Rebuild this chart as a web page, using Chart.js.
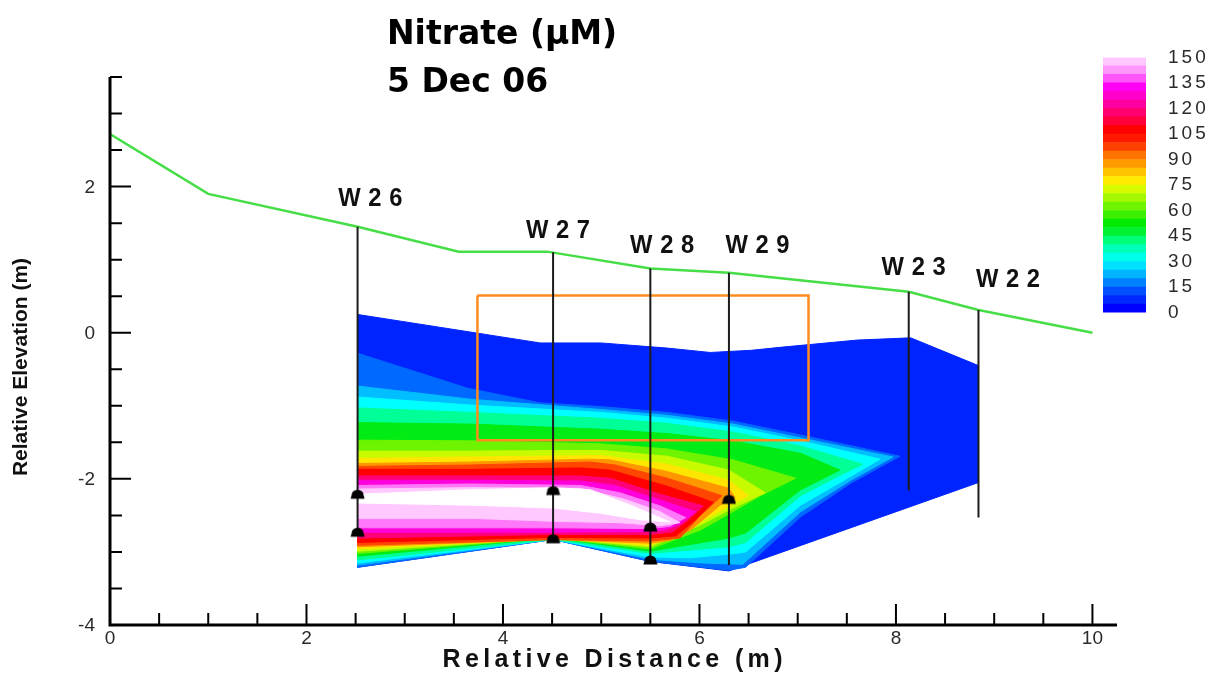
<!DOCTYPE html>
<html>
<head>
<meta charset="utf-8">
<script src="https://cdn.jsdelivr.net/npm/chart.js@4/dist/chart.umd.min.js"></script>
<style>
  html, body { margin: 0; padding: 0; background: #ffffff; }
  #wrap { position: relative; width: 1228px; height: 675px; overflow: hidden; }
  #main { position: absolute; left: 0; top: 0; }
  #cb { position: absolute; left: 1095px; top: 24px; }
</style>
</head>
<body>
<div id="wrap">
  <canvas id="main" width="1228" height="675"></canvas>
  <canvas id="cb" width="125" height="322"></canvas>
</div>
<script>
// ---------------- DATA ----------------
const titleLines = ['Nitrate (µM)', '5 Dec 06'];
const xAxisTitle = 'Relative Distance (m)';
const yAxisTitle = 'Relative Elevation (m)';

const xRange = [0, 10.25];
const yRange = [-4, 3.5];
const xMajorTicks = [0, 2, 4, 6, 8, 10];
const xMajorLabels = ['0', '2', '4', '6', '8', '10'];
const xMinorTicks = [0.5, 1, 1.5, 2.5, 3, 3.5, 4.5, 5, 5.5, 6.5, 7, 7.5, 8.5, 9, 9.5];
const yMajorTicks = [-4, -2, 0, 2];
const yMajorLabels = ['-4', '-2', '0', '2'];
const yMinorTicks = [-3.5, -3, -2.5, -1.5, -1, -0.5, 0.5, 1, 1.5, 2.5, 3, 3.5];

// ground surface (green line)
const groundX = [0, 1.0, 2.52, 3.55, 4.45, 5.5, 6.3, 8.13, 8.84, 10];
const groundY = [2.72, 1.90, 1.45, 1.11, 1.11, 0.88, 0.82, 0.56, 0.31, 0.0];

// wells
const wellNames = ['W26', 'W27', 'W28', 'W29', 'W23', 'W22'];
const wellX = [2.52, 4.51, 5.5, 6.3, 8.13, 8.84];
const wellTop = [1.45, 1.10, 0.88, 0.82, 0.56, 0.31];
const wellBottom = [-2.73, -2.82, -3.11, -3.18, -2.16, -2.53];
const wellLabelX = [2.65, 4.56, 5.62, 6.59, 8.18, 9.14];
const wellLabelY = [1.83, 1.39, 1.19, 1.19, 0.89, 0.72];

// sampling points (black domes)
const sampleX = [2.52, 2.52, 4.51, 4.51, 5.5, 5.5, 6.3];
const sampleY = [-2.21, -2.73, -2.16, -2.82, -2.66, -3.11, -2.28];

// orange box
const boxX = [3.74, 7.11];
const boxY = [0.51, -1.47];

// nitrate contour regions (region where nitrate >= level), x = distance, y = elevation
const contourLevels = [0, 10, 20, 30, 40, 50, 60, 70, 80, 90, 100, 110, 120, 130, 140, 150, 160];
const nitrate0 = [[2.52,0.25],[4.38,-0.14],[5.0,-0.14],[5.67,-0.21],[6.11,-0.27],[6.53,-0.24],[6.82,-0.20],[7.61,-0.10],[8.15,-0.07],[8.84,-0.45],[8.84,-2.05],[6.30,-3.26],[5.5,-3.13],[4.51,-2.83],[2.52,-3.21]];
const nitrate10 = [[2.52,-0.28],[3.64,-0.76],[4.38,-0.96],[4.99,-1.01],[5.67,-1.09],[6.34,-1.21],[7.03,-1.40],[8.04,-1.69],[7.54,-2.06],[7.03,-2.52],[6.47,-3.21],[6.30,-3.25],[5.50,-3.13],[4.51,-2.83],[2.52,-3.21]];
const nitrate20 = [[2.52,-0.73],[3.67,-0.91],[4.99,-1.05],[5.67,-1.13],[6.34,-1.25],[7.03,-1.44],[7.97,-1.70],[7.54,-2.02],[7.03,-2.45],[6.44,-3.17],[6.01,-3.15],[5.50,-3.10],[4.51,-2.83],[2.52,-3.18]];
const nitrate30 = [[2.52,-0.88],[3.67,-0.99],[4.99,-1.09],[5.67,-1.17],[6.34,-1.29],[7.03,-1.48],[7.84,-1.73],[7.43,-2.05],[7.03,-2.36],[6.47,-3.00],[6.30,-3.03],[5.91,-3.08],[5.50,-3.07],[4.51,-2.83],[2.52,-3.15]];
const nitrate40 = [[2.52,-1.03],[3.67,-1.09],[4.99,-1.17],[5.67,-1.24],[6.34,-1.36],[7.03,-1.55],[7.66,-1.80],[7.33,-2.02],[7.03,-2.23],[6.47,-2.87],[6.30,-2.93],[5.50,-3.02],[4.51,-2.83],[2.52,-3.11]];
const nitrate50 = [[2.52,-1.23],[3.67,-1.25],[4.99,-1.32],[5.67,-1.38],[6.34,-1.48],[7.03,-1.65],[7.43,-1.88],[7.03,-2.15],[6.47,-2.74],[6.30,-2.81],[5.50,-2.99],[4.51,-2.81],[2.52,-3.06]];
const nitrate60 = [[2.52,-1.47],[3.67,-1.48],[4.99,-1.52],[5.67,-1.59],[6.34,-1.74],[6.98,-1.99],[6.62,-2.23],[6.34,-2.45],[6.01,-2.70],[5.50,-2.96],[4.51,-2.81],[2.52,-3.02]];
const nitrate70 = [[2.52,-1.62],[3.67,-1.62],[4.99,-1.61],[5.67,-1.69],[6.30,-1.88],[6.67,-2.19],[6.34,-2.40],[6.01,-2.63],[5.50,-2.93],[4.51,-2.81],[2.52,-2.99]];
const nitrate80 = [[2.52,-1.72],[3.67,-1.70],[4.99,-1.68],[5.67,-1.80],[6.30,-2.02],[6.50,-2.23],[6.30,-2.37],[6.01,-2.59],[5.50,-2.91],[4.51,-2.81],[2.52,-2.96]];
const nitrate90 = [[2.52,-1.79],[3.67,-1.77],[4.89,-1.73],[5.09,-1.74],[5.67,-1.90],[6.30,-2.13],[6.36,-2.25],[6.21,-2.36],[5.91,-2.70],[5.70,-2.84],[5.50,-2.88],[4.51,-2.83],[2.52,-2.93]];
const nitrate100 = [[2.52,-1.83],[3.67,-1.81],[4.89,-1.77],[5.14,-1.81],[5.67,-1.99],[6.23,-2.23],[6.01,-2.50],[5.80,-2.81],[5.50,-2.85],[4.51,-2.83],[2.52,-2.91]];
const nitrate110 = [[2.52,-1.87],[3.67,-1.87],[4.79,-1.85],[5.09,-1.88],[5.67,-2.10],[6.14,-2.32],[5.96,-2.56],[5.76,-2.78],[5.50,-2.81],[4.51,-2.80],[2.52,-2.87]];
const nitrate120 = [[2.52,-1.96],[3.67,-1.96],[4.79,-1.96],[5.09,-1.99],[5.60,-2.21],[6.04,-2.37],[5.89,-2.56],[5.72,-2.73],[5.50,-2.76],[4.51,-2.76],[2.52,-2.81]];
const nitrate130 = [[2.52,-2.02],[3.67,-2.02],[4.79,-2.03],[5.14,-2.09],[5.60,-2.29],[5.96,-2.45],[5.80,-2.62],[5.65,-2.70],[5.50,-2.72],[4.51,-2.73],[2.52,-2.73]];
const nitrate140 = [[2.52,-2.09],[3.67,-2.07],[4.79,-2.09],[5.19,-2.19],[5.60,-2.37],[5.86,-2.53],[5.70,-2.65],[5.50,-2.68],[4.51,-2.67],[2.52,-2.67]];
const nitrate150 = [[2.52,-2.14],[3.67,-2.12],[4.79,-2.13],[5.24,-2.28],[5.60,-2.45],[5.80,-2.60],[5.60,-2.64],[5.19,-2.60],[4.51,-2.58],[3.67,-2.54],[2.52,-2.54]];
const nitrate160 = [[2.52,-2.21],[3.67,-2.15],[4.51,-2.12],[4.89,-2.15],[5.30,-2.36],[5.70,-2.59],[5.40,-2.56],[4.99,-2.47],[4.51,-2.40],[3.67,-2.36],[2.52,-2.33]];
const contourRegions = [nitrate0, nitrate10, nitrate20, nitrate30, nitrate40, nitrate50, nitrate60, nitrate70, nitrate80,
  nitrate90, nitrate100, nitrate110, nitrate120, nitrate130, nitrate140, nitrate150, nitrate160];

// colour bar bands (µM) and tick labels
const cbEdges = [0,5,10,15,20,25,30,35,40,45,50,55,60,65,70,75,80,85,90,95,100,105,110,115,120,125,130,135,140,145,150];
const cbTicks = [0, 15, 30, 45, 60, 75, 90, 105, 120, 135, 150];

// ---------------- STYLES ----------------
const contourColors = ['rgb(0,36,255)','rgb(0,105,255)','rgb(0,190,255)','rgb(0,255,255)','rgb(0,255,150)',
  'rgb(0,236,20)','rgb(110,244,0)','rgb(200,250,0)','rgb(255,230,0)','rgb(255,150,0)','rgb(255,70,0)',
  'rgb(255,0,0)','rgb(255,0,120)','rgb(255,0,220)','rgb(255,120,250)','rgb(255,200,255)','rgb(255,255,255)'];
const cbColors = ['rgb(0,0,255)','rgb(0,40,255)','rgb(0,80,255)','rgb(0,130,255)','rgb(0,180,255)','rgb(0,225,255)',
  'rgb(0,255,235)','rgb(0,255,185)','rgb(0,255,120)','rgb(0,242,50)','rgb(0,235,0)','rgb(60,238,0)',
  'rgb(110,243,0)','rgb(165,248,0)','rgb(215,250,0)','rgb(255,235,0)','rgb(255,195,0)','rgb(255,155,0)',
  'rgb(255,115,0)','rgb(255,65,0)','rgb(255,25,0)','rgb(255,0,0)','rgb(255,0,60)','rgb(255,0,110)',
  'rgb(255,0,160)','rgb(255,0,205)','rgb(255,0,245)','rgb(255,85,250)','rgb(255,150,252)','rgb(255,200,255)'];
const FONT = "'Liberation Sans', Arial, sans-serif";

// dome shaped marker
function makeDome() {
  const c = document.createElement('canvas');
  c.width = 15; c.height = 12;
  const g = c.getContext('2d');
  g.fillStyle = '#000';
  g.beginPath();
  g.moveTo(0.5, 10.5);
  g.lineTo(1.5, 7);
  g.ellipse(7.5, 7, 6, 5.5, 0, Math.PI, 2 * Math.PI);
  g.lineTo(14.5, 10.5);
  g.closePath();
  g.fill();
  return c;
}

// ---------------- MAIN CHART ----------------
const datasets = [];
contourRegions.forEach((poly, i) => {
  const pts = poly.map(p => ({ x: p[0], y: p[1] }));
  pts.push({ x: poly[0][0], y: poly[0][1] });
  datasets.push({
    type: 'line', data: pts, fill: 'shape', backgroundColor: contourColors[i],
    borderColor: contourColors[i], borderWidth: 1, pointRadius: 0, tension: 0, order: 100 - i
  });
});
datasets.push({
  type: 'line', order: 5, fill: false, pointRadius: 0, borderWidth: 2.5, borderColor: 'rgb(255,140,30)',
  data: [{x: boxX[0], y: boxY[0]}, {x: boxX[1], y: boxY[0]}, {x: boxX[1], y: boxY[1]}, {x: boxX[0], y: boxY[1]}, {x: boxX[0], y: boxY[0]}]
});
datasets.push({
  type: 'line', order: 4, fill: false, pointRadius: 0, borderWidth: 2.5, borderColor: 'rgb(70,222,70)', tension: 0,
  data: groundX.map((v, i) => ({ x: v, y: groundY[i] }))
});
wellX.forEach((wx, i) => {
  datasets.push({
    type: 'line', order: 3, fill: false, pointRadius: 0, borderWidth: 2, borderColor: '#1c1c1c',
    data: [{ x: wx, y: wellTop[i] }, { x: wx, y: wellBottom[i] }]
  });
});
datasets.push({
  type: 'line', order: 1, showLine: false, pointStyle: makeDome(), pointRadius: 6,
  data: sampleX.map((v, i) => ({ x: v, y: sampleY[i] }))
});

const decor = {
  id: 'decor',
  afterDatasetsDraw(chart) {
    const { ctx, scales: { x, y } } = chart;
    ctx.save();
    ctx.fillStyle = '#111';
    ctx.font = "bold 25px " + FONT;
    ctx.textAlign = 'center';
    ctx.textBaseline = 'middle';
    wellNames.forEach((n, i) => {
      const px = x.getPixelForValue(wellLabelX[i]);
      const py = y.getPixelForValue(wellLabelY[i]);
      ctx.save();
      ctx.translate(px, py);
      ctx.scale(0.95, 1.05);
      ctx.letterSpacing = '8px';
      ctx.fillText(n, 4, 0);
      ctx.restore();
    });
    ctx.restore();
  },
  afterDraw(chart) {
    const { ctx, scales: { x, y } } = chart;
    const X = v => x.getPixelForValue(v), Y = v => y.getPixelForValue(v);
    const x0 = X(xRange[0]), y0 = Y(yRange[0]);
    ctx.save();
    ctx.strokeStyle = '#000';
    ctx.lineWidth = 3;
    ctx.beginPath();
    ctx.moveTo(x0, Y(yRange[1]));
    ctx.lineTo(x0, y0);
    ctx.lineTo(X(xRange[1]), y0);
    ctx.stroke();
    ctx.lineWidth = 2;
    ctx.beginPath();
    xMajorTicks.forEach(v => { ctx.moveTo(X(v), y0); ctx.lineTo(X(v), y0 - 21); });
    xMinorTicks.forEach(v => { ctx.moveTo(X(v), y0); ctx.lineTo(X(v), y0 - 12); });
    yMajorTicks.forEach(v => { ctx.moveTo(x0, Y(v)); ctx.lineTo(x0 + 21, Y(v)); });
    yMinorTicks.forEach(v => { ctx.moveTo(x0, Y(v)); ctx.lineTo(x0 + 12, Y(v)); });
    ctx.stroke();

    // tick labels
    ctx.fillStyle = '#2a2a2a';
    ctx.font = "19px " + FONT;
    ctx.textAlign = 'center';
    ctx.textBaseline = 'top';
    xMajorTicks.forEach((v, i) => ctx.fillText(xMajorLabels[i], X(v), y0 + 4));
    ctx.textAlign = 'right';
    ctx.textBaseline = 'middle';
    yMajorTicks.forEach((v, i) => ctx.fillText(yMajorLabels[i], x0 - 15, Y(v) + 1));

    // axis titles
    ctx.fillStyle = '#111';
    ctx.font = "bold 25px " + FONT;
    ctx.textAlign = 'left';
    ctx.textBaseline = 'middle';
    const w0 = ctx.measureText(xAxisTitle).width;
    const n = xAxisTitle.length;
    const target = 340;
    const sp = (target - w0) / (n - 1);
    ctx.letterSpacing = sp + 'px';
    ctx.fillText(xAxisTitle, (x0 + X(xRange[1])) / 2 - target / 2 - 1, y0 + 35);
    ctx.letterSpacing = '0px';

    ctx.save();
    ctx.translate(21, 367);
    ctx.rotate(-Math.PI / 2);
    ctx.font = "bold 21px " + FONT;
    ctx.textAlign = 'center';
    ctx.fillText(yAxisTitle, 0, 0, 229);
    ctx.restore();

    // title
    ctx.fillStyle = '#000';
    ctx.font = "bold 33px 'DejaVu Sans', sans-serif";
    ctx.textAlign = 'left';
    ctx.textBaseline = 'alphabetic';
    ctx.fillText(titleLines[0], 387, 44, 232);
    ctx.fillText(titleLines[1], 387, 92, 166);
    ctx.restore();
  }
};

new Chart(document.getElementById('main'), {
  type: 'line',
  data: { datasets },
  options: {
    responsive: false,
    animation: false,
    events: [],
    layout: { padding: { left: 110, right: 111, top: 77, bottom: 50 } },
    scales: {
      x: { type: 'linear', min: xRange[0], max: xRange[1], display: false },
      y: { type: 'linear', min: yRange[0], max: yRange[1], display: false }
    },
    plugins: { legend: { display: false }, tooltip: { enabled: false } }
  },
  plugins: [decor]
});

// ---------------- COLOUR BAR ----------------
const cbDatasets = cbColors.map((c, i) => ({
  data: [[cbEdges[i], cbEdges[i + 1]]],
  backgroundColor: c, borderWidth: 0, grouped: false,
  barPercentage: 1, categoryPercentage: 1
}));
const cbSpacing = {
  id: 'cbSpacing',
  beforeDraw(chart) { chart.ctx.letterSpacing = '3px'; }
};
new Chart(document.getElementById('cb'), {
  type: 'bar',
  data: { labels: ['NO3'], datasets: cbDatasets },
  options: {
    responsive: false,
    animation: false,
    events: [],
    layout: { padding: { left: 8, right: 10, top: 17, bottom: 17 } },
    scales: {
      x: { display: false },
      y: {
        min: 0, max: 150, position: 'right',
        afterBuildTicks: s => { s.ticks = cbTicks.map(v => ({ value: v })); },
        afterFit: s => { s.width = 64; },
        ticks: { padding: 22, color: '#2a2a2a', font: { family: FONT, size: 19 } },
        grid: { display: false, drawTicks: false },
        border: { display: false }
      }
    },
    plugins: { legend: { display: false }, tooltip: { enabled: false } }
  },
  plugins: [cbSpacing]
});
</script>
</body>
</html>
